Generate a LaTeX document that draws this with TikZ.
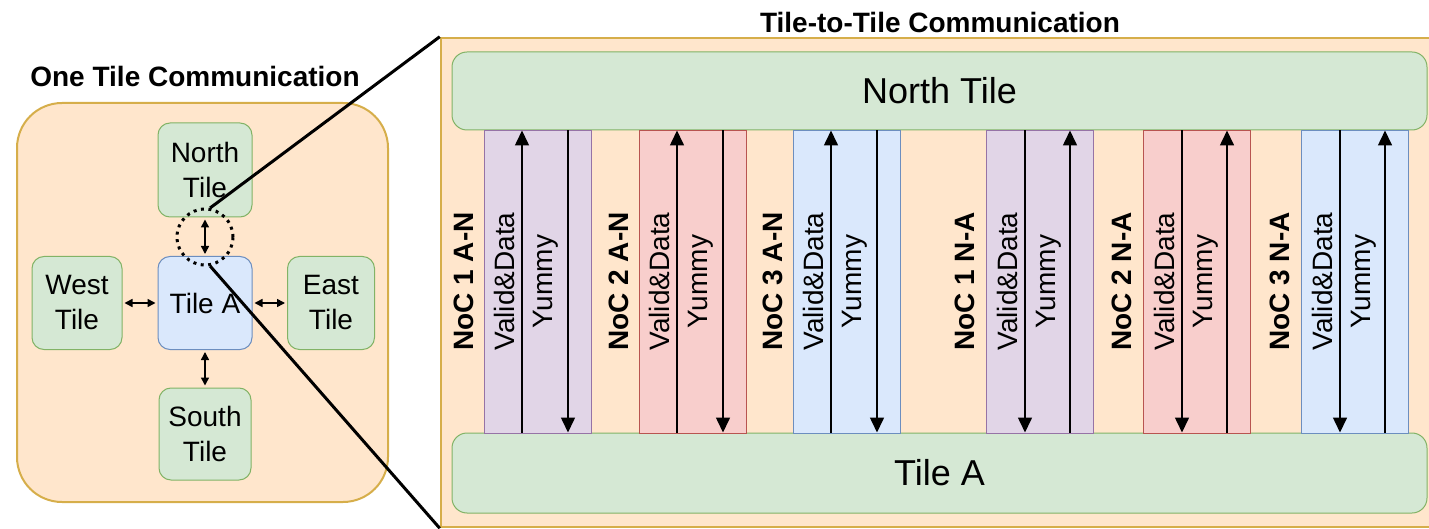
\documentclass[tikz,border=0pt]{standalone}
\usepackage{fontspec}
\setmainfont{Liberation Sans}
\usetikzlibrary{arrows.meta}
\definecolor{fillor}{HTML}{FFE6CC}
\definecolor{lineor}{HTML}{D6AE4A}
\definecolor{fillgr}{HTML}{D5E8D4}
\definecolor{linegr}{HTML}{82B366}
\definecolor{fillbl}{HTML}{DAE8FC}
\definecolor{linebl}{HTML}{6C8EBF}
\definecolor{fillpu}{HTML}{E1D5E7}
\definecolor{linepu}{HTML}{9673A6}
\definecolor{fillrd}{HTML}{F8CECC}
\definecolor{linerd}{HTML}{B85450}
\tikzset{
  panel/.style={draw=lineor, fill=fillor, line width=2pt, inner sep=0pt},
  tile/.style={draw=linegr, fill=fillgr, rounded corners=12pt, line width=1pt, align=center, inner sep=0pt, font=\fontsize{28}{35}\selectfont},
  lane/.style={line width=0.8pt, minimum width=107pt, minimum height=303pt, inner sep=0pt},
  link/.style={{Triangle[width=8pt,length=8pt]}-{Triangle[width=8pt,length=8pt]}, line width=1.5pt, shorten <=2pt, shorten >=2pt},
  sig/.style={-{Triangle[width=14pt,length=15pt]}, line width=1.6pt},
  zoomln/.style={line width=3pt},
  ttl/.style={font=\fontsize{28}{33}\selectfont\bfseries},
  lbl/.style={rotate=90, inner sep=0pt, font=\fontsize{28}{33}\selectfont},
  noc/.style={lbl, font=\fontsize{28}{33}\selectfont\bfseries}
}
\begin{document}
\begin{tikzpicture}[x=1pt, y=-1pt]
  \useasboundingbox (0,0) rectangle (1429,529);
  % one tile view
  \node[ttl, anchor=base] (ltitle) at (195,87) {One Tile Communication};
  \node[panel, rounded corners=45pt, minimum width=371pt, minimum height=399pt] (lbox) at (202.5,302.5) {};
  \node[tile, minimum width=94pt, minimum height=94pt] (lN) at (205,170) {North\\Tile};
  \node[tile, draw=linebl, fill=fillbl, minimum width=94pt, minimum height=93pt] (lA) at (205,303) {Tile A};
  \node[tile, minimum width=90pt, minimum height=93pt] (lW) at (77,303) {West\\Tile};
  \node[tile, minimum width=87pt, minimum height=93pt] (lE) at (331,303) {East\\Tile};
  \node[tile, minimum width=92pt, minimum height=92pt] (lS) at (205,434) {South\\Tile};
  \draw[link] (lN) -- (lA);
  \draw[link] (lW) -- (lA);
  \draw[link] (lA) -- (lE);
  \draw[link] (lA) -- (lS);
  \node[draw, circle, line width=3pt, dash pattern=on 3pt off 4.5pt, minimum size=56pt] (zc) at (205,237) {};
  % tile-to-tile view
  \node[ttl, anchor=base] (rtitle) at (940,33) {Tile-to-Tile Communication};
  \node[panel, line width=2.5pt, minimum width=991pt, minimum height=489pt] (rbox) at (936.5,282.5) {};
  \node[tile, rounded corners=15pt, minimum width=975pt, minimum height=78pt, font=\fontsize{36}{43}\selectfont] (nN) at (939.5,91) {North Tile};
  \node[tile, rounded corners=15pt, minimum width=975pt, minimum height=80pt, font=\fontsize{36}{43}\selectfont] (nA) at (939.5,473) {Tile A};
  \foreach \x/\col/\k in {484/pu/1, 639/rd/2, 793/bl/3}{
    \node[lane, draw=line\col, fill=fill\col] (an\k) at (\x+53.5,281.5) {};
    \coordinate (vd) at (\x+38,0);
    \coordinate (ym) at (\x+84,0);
    \draw[sig] (nA.north -| vd) -- (nN.south -| vd);
    \draw[sig] (nN.south -| ym) -- (nA.north -| ym);
    \node[noc] (an\k-noc) at (\x-20,281.5) {NoC \k\ A-N};
    \node[lbl] (an\k-vd) at (\x+20,281.5) {Valid\&Data};
    \node[lbl] (an\k-ym) at (\x+62,281.5) {Yummy};
  }
  \foreach \x/\col/\k in {986/pu/1, 1143/rd/2, 1301/bl/3}{
    \node[lane, draw=line\col, fill=fill\col] (na\k) at (\x+53.5,281.5) {};
    \coordinate (vd) at (\x+39,0);
    \coordinate (ym) at (\x+84,0);
    \draw[sig] (nN.south -| vd) -- (nA.north -| vd);
    \draw[sig] (nA.north -| ym) -- (nN.south -| ym);
    \node[noc] (na\k-noc) at (\x-21,281.5) {NoC \k\ N-A};
    \node[lbl] (na\k-vd) at (\x+21,281.5) {Valid\&Data};
    \node[lbl] (na\k-ym) at (\x+63,281.5) {Yummy};
  }
  % zoom lines
  \draw[zoomln] (zc.80) -- (rbox.north west);
  \draw[zoomln] (zc.-80) -- (rbox.south west);
\end{tikzpicture}
\end{document}
